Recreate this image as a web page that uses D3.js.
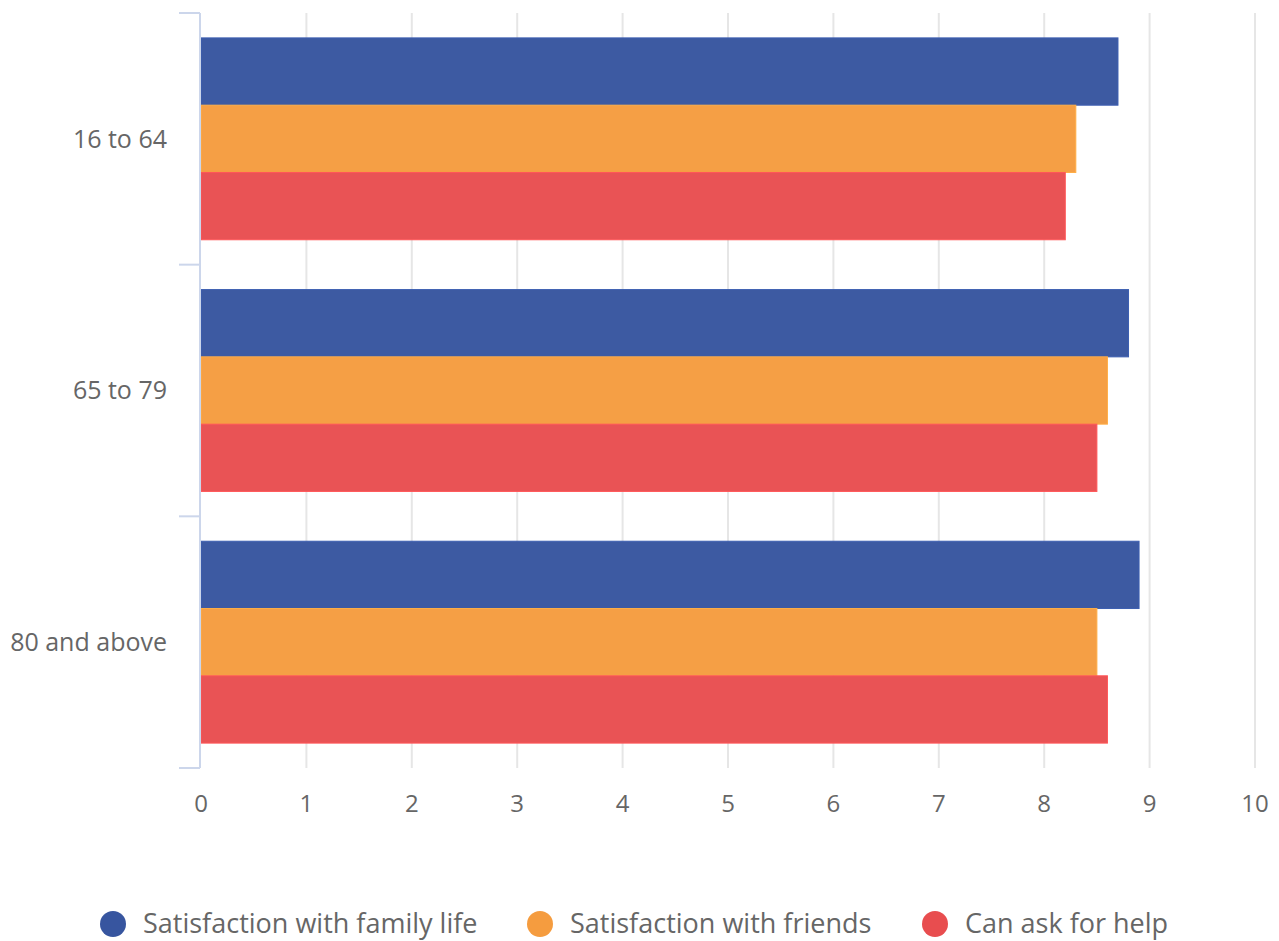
<!DOCTYPE html>
<html lang="en">
<head>
<meta charset="utf-8">
<title>Satisfaction by age group</title>
<script src="https://d3js.org/d3.v7.min.js"></script>
<style>
  body { margin: 0; background: #fff; }
  svg { display: block; font-family: 'Open Sans', sans-serif; }
</style>
</head>
<body>
<script>
// data
const ageGroups = ["16 to 64", "65 to 79", "80 and above"];
const seriesNames = ["Satisfaction with family life", "Satisfaction with friends", "Can ask for help"];
const familyLife = [8.7, 8.8, 8.9];
const friends = [8.3, 8.6, 8.5];
const askHelp = [8.2, 8.5, 8.6];
const xTicks = [0, 1, 2, 3, 4, 5, 6, 7, 8, 9, 10];
const colors = ["#37559f", "#f59c3f", "#e84d4f"];

const w = 1279, h = 941;
const margin = {top: 13, right: 24, bottom: 173, left: 201};

const svg = d3.select("body").append("svg")
  .attr("width", w).attr("height", h);

const x = d3.scaleLinear().domain([0, 10])
  .range([margin.left, w - margin.right]);
const y = d3.scaleBand().domain(ageGroups)
  .range([margin.top, h - margin.bottom]);
const ySub = d3.scaleBand().domain(seriesNames)
  .range([0, y.bandwidth()]).paddingOuter(0.37);

const values = [familyLife, friends, askHelp];

// grid lines
svg.append("g").selectAll("line")
  .data(xTicks.slice(1))
  .join("line")
  .attr("x1", d => x(d)).attr("x2", d => x(d))
  .attr("y1", margin.top).attr("y2", h - margin.bottom)
  .attr("stroke", "#e6e6e6").attr("stroke-width", 2);

// bars
const groups = svg.append("g").selectAll("g")
  .data(ageGroups)
  .join("g")
  .attr("transform", d => `translate(0,${y(d)})`);

groups.selectAll("rect")
  .data((d, i) => seriesNames.map((s, j) => ({s, v: values[j][i], c: colors[j]})))
  .join("rect")
  .attr("x", x(0))
  .attr("y", d => ySub(d.s))
  .attr("width", d => x(d.v) - x(0))
  .attr("height", ySub.bandwidth())
  .attr("fill", d => d.c)
  .attr("fill-opacity", 0.97)
  .attr("stroke", d => d3.color(d.c).brighter(0.3))
  .attr("stroke-width", 1);

// y axis
const yAxis = svg.append("g")
  .attr("transform", `translate(${margin.left - 1},0)`);
yAxis.append("line")
  .attr("y1", margin.top).attr("y2", h - margin.bottom)
  .attr("stroke", "#ccd6eb").attr("stroke-width", 2);
const yEdges = ageGroups.map(d => y(d)).concat([h - margin.bottom]);
yAxis.selectAll("line.tick")
  .data(yEdges)
  .join("line")
  .attr("class", "tick")
  .attr("x1", -21).attr("x2", 0)
  .attr("y1", d => d).attr("y2", d => d)
  .attr("stroke", "#ccd6eb").attr("stroke-width", 2);
yAxis.selectAll("text")
  .data(ageGroups)
  .join("text")
  .attr("x", -33)
  .attr("y", d => y(d) + y.bandwidth() / 2)
  .attr("dy", "0.35em")
  .attr("text-anchor", "end")
  .attr("font-size", 25)
  .attr("fill", "#666")
  .text(d => d);

// x tick labels
svg.append("g").selectAll("text")
  .data(xTicks)
  .join("text")
  .attr("x", d => x(d))
  .attr("y", 812)
  .attr("text-anchor", "middle")
  .attr("font-size", 24)
  .attr("fill", "#666")
  .text(d => d);

// legend
const legendX = [113, 540, 935];
const legend = svg.append("g").selectAll("g")
  .data(seriesNames)
  .join("g")
  .attr("transform", (d, i) => `translate(${legendX[i]},924)`);
legend.append("circle")
  .attr("r", 13)
  .attr("fill", (d, i) => colors[i]);
legend.append("text")
  .attr("x", 30)
  .attr("dy", "0.35em")
  .attr("font-size", 27)
  .attr("fill", "#666")
  .text(d => d);
</script>
</body>
</html>
